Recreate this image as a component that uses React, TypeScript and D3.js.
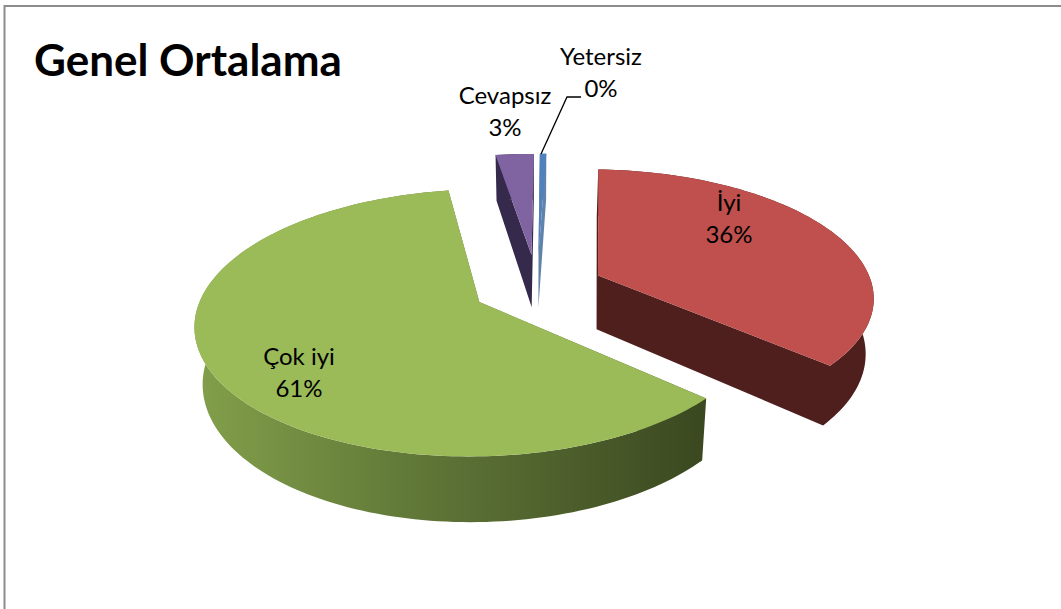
import React from 'react'
import * as d3 from 'd3'

const categories = ['Çok iyi', 'Cevapsız', 'Yetersiz', 'İyi']
const shares = [60.9, 2.65, 0.45, 36]
const faceColors = ['#9bbb59', '#8064a2', '#4f81bd', '#bf504d']
const wallColors = ['url(#greenWall)', '#362a4c', '#5f83ab', '#4f1f1d']
const explosions = [0.235, 0.27, 0.27, 0.245]
const firstAngle = (131.6 * Math.PI) / 180

// label centres in page pixels, first line baseline
const labelSpots = [
  { x: 299, y: 365 },
  { x: 505, y: 104 },
  { x: 601, y: 65 },
  { x: 729, y: 211 },
]

const width = 1061
const height = 609

// Projection of the tilted pie
const centerX = 537
const centerY = 287.5
const radiusX = 275
const radiusY = 125.8
const perspective = 0.1536
const depth = 54.5
const bottomShrink = 0.976

type Pt = [number, number]

const project = (wx: number, wy: number, bottom = false): Pt => {
  const s = 1 / (1 + perspective * wy)
  const x = radiusX * wx * s
  const y = -radiusY * wy * s
  return bottom
    ? [centerX + x * bottomShrink, centerY + y + depth * s]
    : [centerX + x, centerY + y]
}

const slices = d3.pie<number>()
  .sort(null)
  .startAngle(firstAngle)
  .endAngle(firstAngle + Math.PI * 2)(shares)

const line = d3.line()

// same winding on every polygon, so they add up inside one path
const wound = (poly: Pt[]) => (d3.polygonArea(poly) < 0 ? [...poly].reverse() : poly)

const sliceShape = (i: number) => {
  const { startAngle, endAngle } = slices[i]
  const mid = (startAngle + endAngle) / 2
  const ox = explosions[i] * Math.sin(mid)
  const oy = explosions[i] * Math.cos(mid)
  const n = Math.max(2, Math.ceil((endAngle - startAngle) * 40))
  const angles = d3.range(n + 1).map(k => startAngle + ((endAngle - startAngle) * k) / n)
  const rim = (bottom: boolean) => angles.map(a => project(ox + Math.sin(a), oy + Math.cos(a), bottom))
  const top = rim(false)
  const low = rim(true)
  const apexTop = project(ox, oy)
  const apexLow = project(ox, oy, true)
  // everything below the top face, in one path so no seams show
  const walls: Pt[][] = [
    [...top, ...[...low].reverse()],
    [apexTop, top[0], low[0], apexLow],
    [apexTop, apexLow, low[n], top[n]],
  ]
  return {
    face: line([apexTop, ...top]) + 'Z',
    walls: walls.map(w => line(wound(w)) + 'Z').join(''),
  }
}

const drawOrder = [1, 2, 3, 0]

const App = () => {
  const font = 'Lato, Carlito, sans-serif'
  return (
    <svg width={width} height={height} style={{ position: 'absolute', left: 0, top: 0, background: '#fff' }}>
      <defs>
        <linearGradient id="greenWall" gradientUnits="userSpaceOnUse" x1={195} x2={705} y1={0} y2={0}>
          <stop offset="0" stopColor="#82a04a" />
          <stop offset="0.45" stopColor="#5f7637" />
          <stop offset="1" stopColor="#3b4820" />
        </linearGradient>
      </defs>
      <path d={`M4.5 ${height}V6H${width}`} fill="none" stroke="#8c8c8c" strokeWidth={2} />
      <text x={34} y={76} fontFamily={font} fontWeight={700} fontSize={44} fill="#000">Genel Ortalama</text>

      {drawOrder.map(i => {
        const s = sliceShape(i)
        return (
          <g key={categories[i]}>
            <path d={s.walls} fill={wallColors[i]} />
            <path d={s.face} fill={faceColors[i]} />
          </g>
        )
      })}

      <path d="M541 154L567 97H581" fill="none" stroke="#000" strokeWidth={1.3} />

      {categories.map((c, i) => (
        <text key={c} textAnchor="middle" fontFamily={font} fontSize={24} fill="#000">
          <tspan x={labelSpots[i].x} y={labelSpots[i].y}>{c}</tspan>
          <tspan x={labelSpots[i].x} y={labelSpots[i].y + 32}>{`${Math.round(shares[i])}%`}</tspan>
        </text>
      ))}
    </svg>
  )
}

export default App
